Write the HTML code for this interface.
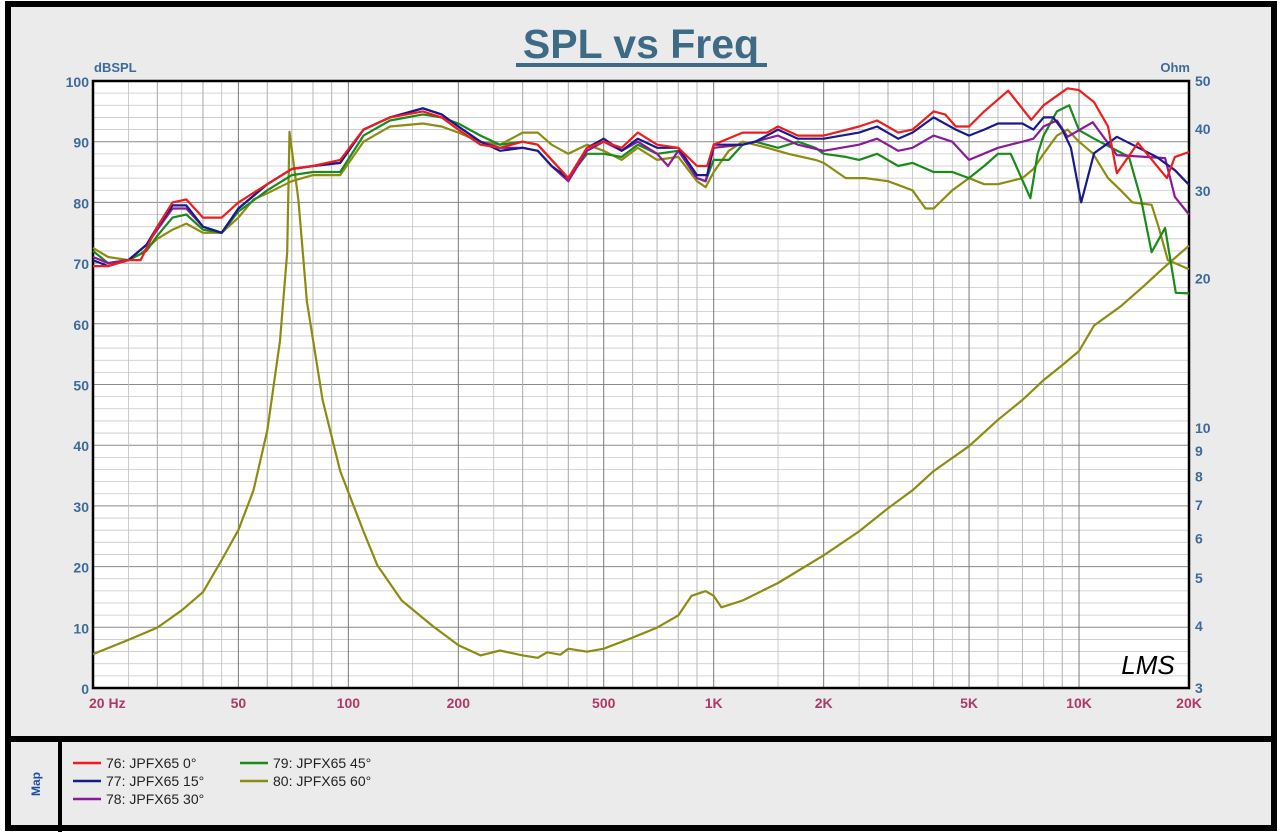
<!DOCTYPE html>
<html><head><meta charset="utf-8"><style>
html,body{margin:0;padding:0;background:#fff}
svg{display:block}
text{font-family:"Liberation Sans",Arial,sans-serif}
</style></head><body>
<svg id="chart" width="1280" height="832" viewBox="0 0 1280 832" xmlns="http://www.w3.org/2000/svg">
<rect x="0" y="0" width="1280" height="832" fill="#ffffff"/>
<rect x="8" y="4" width="1266" height="824" fill="#ebebeb" stroke="#000" stroke-width="6"/>
<line x1="8" y1="739" x2="1274" y2="739" stroke="#000" stroke-width="6"/>
<line x1="60" y1="739" x2="60" y2="832" stroke="#000" stroke-width="4"/>
<text x="641" y="58" text-anchor="middle" font-size="41" font-weight="bold" fill="#3d6a85">SPL vs Freq</text>
<rect x="516" y="63" width="251" height="4" fill="#3d6a85"/>
<g id="plot"></g>
<text x="94" y="72" font-size="13" font-weight="bold" fill="#3d6a9a">dBSPL</text>
<text x="1190" y="72" text-anchor="end" font-size="13" font-weight="bold" fill="#3d6a9a">Ohm</text>
<text x="1148" y="674" text-anchor="middle" font-size="26" font-style="italic" fill="#000" font-family="Liberation Serif">LMS</text>
<g>
<text transform="translate(40,784) rotate(-90)" text-anchor="middle" font-size="12" font-weight="bold" fill="#1f4e9a">Map</text>
<g id="legend"></g>
</g>
</svg>
<script>
// Frequencies (Hz) and SPL (dB) per series
const f0 = [20,22,25,27,30,33,36,40,45,50,60,70,80,95,110,130,160,180,200,230,260,300,330,360,400,450,500,560,620,700,800,900,960,1000,1200,1400,1500,1700,2000,2500,2800,3200,3500,4000,4300,4600,5000,5500,6400,7400,8000,9300,10000,11000,12000,12700,14500,17400,18300,20000];
const spl0 = [69.5,69.5,70.5,70.5,76,80,80.5,77.5,77.5,80,83,85.5,86,87,92,94,95,94,92,89.5,89,90,89.5,87,84,89,90,89,91.5,89.5,89,86,86,89.5,91.5,91.5,92.5,91,91,92.5,93.5,91.5,92,95,94.5,92.5,92.5,95,98.4,93.6,96,98.8,98.5,96.5,92.5,84.8,89.8,84,87.5,88.3];
const f15 = [20,22,25,28,30,33,36,40,45,50,60,70,80,95,110,130,160,180,200,230,260,300,330,360,400,450,500,560,620,700,800,900,960,1000,1200,1300,1500,1700,2000,2500,2800,3200,3500,4000,4600,5000,5500,6000,7000,7500,8000,8500,9000,9500,10140,11000,12700,16300,18300,20000];
const spl15 = [70.5,69.5,70.5,73,76,79.5,79.5,76,75,79,83,85.5,86,86.5,92,94,95.5,94.5,92.5,90,88.5,89,88.5,86,84,89,90.5,88.5,90.5,89,89,84.5,84.5,89.5,89.5,90,92,90.5,90.5,91.5,92.5,90.5,91.5,94,92,91,92,93,93,92,94,94,92,89,80,88.1,90.8,87.5,85.3,82.9];
const f30 = [20,22,25,28,30,33,36,40,45,50,60,70,80,95,110,130,160,180,200,230,260,300,330,360,400,450,500,560,620,700,750,800,900,950,1000,1200,1500,1700,2000,2500,2800,3200,3500,4000,4500,5000,6000,7000,7500,8000,8700,9300,10900,12700,17200,18300,20000];
const spl30 = [71,70,70.5,73,75.5,79,79,76,75,79,83,85.5,86,86.5,92,94,95.5,94.5,92.5,90,89,89,88.5,86,83.5,88.5,90,88.5,90,88,86,88.5,84,83.5,89,89.5,91,89.5,88.5,89.5,90.5,88.5,89,91,90,87,89,90,90.5,92.5,93.5,90.8,93.2,87.8,87.3,80.9,78];
const f45 = [20,22,25,28,30,33,36,40,45,50,60,70,80,95,110,130,160,180,200,230,260,300,330,360,400,450,500,560,620,700,800,900,950,1000,1100,1200,1300,1500,1700,1900,2000,2300,2500,2800,3200,3500,4000,4500,5000,5500,6000,6500,7360,7700,8000,8700,9400,10000,11000,13700,14800,15800,17200,18400,20000];
const spl45 = [72,70,70.5,72,74.5,77.5,78,75.5,75,78.5,82,84.5,85,85,91,93.5,94.5,94,93,91,89.5,90,89.5,87,84,88,88,87.5,89.5,88,88.5,84,83.5,87,87,89.5,90,89,90,89,88,87.5,87,88,86,86.5,85,85,84,86,88,88,80.7,88,91,95,96,91.9,90.5,87.5,80.4,71.8,75.8,65.1,65];
const f60 = [20,22,25,27,30,33,36,40,45,50,55,60,70,80,95,110,130,160,180,200,230,260,300,330,360,400,450,500,560,620,700,800,900,950,1000,1100,1200,1400,1600,1900,2000,2300,2600,3000,3500,3800,4000,4500,5000,5500,6000,7000,7500,8000,8700,9300,10000,10900,12000,13000,14000,15800,16500,17500,18300,20000];
const spl60 = [72.5,71,70.5,71.5,74,75.5,76.5,75,75,77.5,80.5,81.5,83.5,84.5,84.5,90,92.5,93,92.5,91.5,90,89.5,91.5,91.5,89.5,88,89.5,88.5,87,89,87,87.5,83.5,82.5,85,88.5,90,89,88,87,86.5,84,84,83.5,82,79,79,82,84,83,83,84,85.5,88,91,92,90,88.1,84,82,80,79.6,76,70.5,70,69];
// Impedance (Ohm) of 60° trace
const fz = [20,25,30,35,40,45,50,55,60,65,68,69,73,77,85,95,110,120,140,170,200,230,260,300,330,350,380,400,450,500,600,700,800,870,950,1000,1050,1200,1500,2000,2500,3000,3500,4000,5000,6000,7000,8000,9000,10000,11000,13000,15000,17000,20000];
const zOhm = [3.51,3.75,3.97,4.3,4.68,5.43,6.24,7.5,9.9,15,22.6,39.5,28.8,18,11.4,8.2,6.2,5.3,4.5,4.0,3.66,3.49,3.57,3.49,3.45,3.54,3.5,3.6,3.55,3.6,3.79,3.97,4.2,4.6,4.7,4.6,4.36,4.5,4.88,5.55,6.2,6.9,7.5,8.2,9.2,10.4,11.4,12.5,13.4,14.3,16.1,17.6,19.3,21,23.3];
const yTicks = [0,10,20,30,40,50,60,70,80,90,100];
const ohmTicks = [3,4,5,6,7,8,9,10,20,30,40,50];
const xTickVals = [20,50,100,200,500,1000,2000,5000,10000,20000];
const xTickLabels = ["20  Hz","50","100","200","500","1K","2K","5K","10K","20K"];
const seriesNames = ["76: JPFX65  0°","77: JPFX65  15°","78: JPFX65  30°","79: JPFX65  45°","80: JPFX65  60°"];

const L=93,R=1189,T=81,B=688;
const NS='http://www.w3.org/2000/svg';
const xs=f=>L+(R-L)*Math.log10(f/20)/3;
const ys=d=>B-(B-T)*d/100;
const yz=o=>B-(B-T)*Math.log10(o/3)/Math.log10(50/3);
const plot=document.getElementById('plot');
function mk(tag,attrs,parent){const e=document.createElementNS(NS,tag);for(const k in attrs)e.setAttribute(k,attrs[k]);(parent||plot).appendChild(e);return e;}
mk('rect',{x:L,y:T,width:R-L,height:B-T,fill:'#fff'});
const grid=mk('g',{});


for(let d=0;d<=100;d+=2){mk('line',{x1:L,x2:R,y1:ys(d),y2:ys(d),stroke:d%10?'#c8c8c8':'#8a8a8a','stroke-width':d%10?0.8:1},grid);}
for(let dec=10;dec<=10000;dec*=10){for(let m=1;m<=9;m++){const f=dec*m;if(f<20||f>20000)continue;const maj=(m===1||m===2||m===5);mk('line',{x1:xs(f),x2:xs(f),y1:T,y2:B,stroke:maj?'#7a7a7a':'#a8a8a8','stroke-width':1},grid);}}
[1.5,2.5,3.5,4.5,6,7,8,9].forEach(m=>{[10,100,1000].forEach(dec=>{const f=dec*m;if(f>20&&f<20000)mk('line',{x1:xs(f),x2:xs(f),y1:T,y2:B,stroke:'#c0c0c0','stroke-width':0.8},grid);});});
mk('rect',{x:L,y:T,width:R-L,height:B-T,fill:'none',stroke:'#000','stroke-width':2.5});
yTicks.forEach(v=>{const t=mk('text',{x:L-4,y:ys(v)+6,'text-anchor':'end','font-size':14,'font-weight':'bold',fill:'#3d6a9a'});t.textContent=v;});
ohmTicks.forEach(v=>{const t=mk('text',{x:R+6,y:yz(v)+5,'font-size':14,'font-weight':'bold',fill:'#3d6a9a'});t.textContent=v;});
xTickVals.forEach((v,i)=>{const t=mk('text',{x:i===0?xs(v)-4:xs(v),y:B+20,'text-anchor':i===0?'start':'middle','font-size':14,'font-weight':'bold',fill:'#b0386a'});t.textContent=xTickLabels[i];});
const colors=['#ee1c1c','#1a1a8c','#8a1a9a','#1a8a1a','#8c8c10'];
const sets=[[f0,spl0],[f15,spl15],[f30,spl30],[f45,spl45],[f60,spl60]];
function line(fa,va,yf,col,name){const p=mk('polyline',{points:fa.map((f,i)=>xs(f).toFixed(1)+','+yf(va[i]).toFixed(1)).join(' '),fill:'none',stroke:col,'stroke-width':2.2,'stroke-linejoin':'round'});}
line(fz,zOhm,yz,colors[4],'impedance-60deg');
[4,3,2,1,0].forEach(i=>line(sets[i][0],sets[i][1],ys,colors[i],'spl-series-'+i));
const lg=document.getElementById('legend');
const pos=[[73,763],[73,781],[73,799],[240,763],[240,781]];
seriesNames.forEach((n,i)=>{const g=mk('g',{},lg);mk('line',{x1:pos[i][0],x2:pos[i][0]+28,y1:pos[i][1],y2:pos[i][1],stroke:colors[i],'stroke-width':2.5},g);const t=mk('text',{x:pos[i][0]+33,y:pos[i][1]+5,'font-size':14,fill:'#222'},g);t.textContent=n;});
</script>
</body></html>
